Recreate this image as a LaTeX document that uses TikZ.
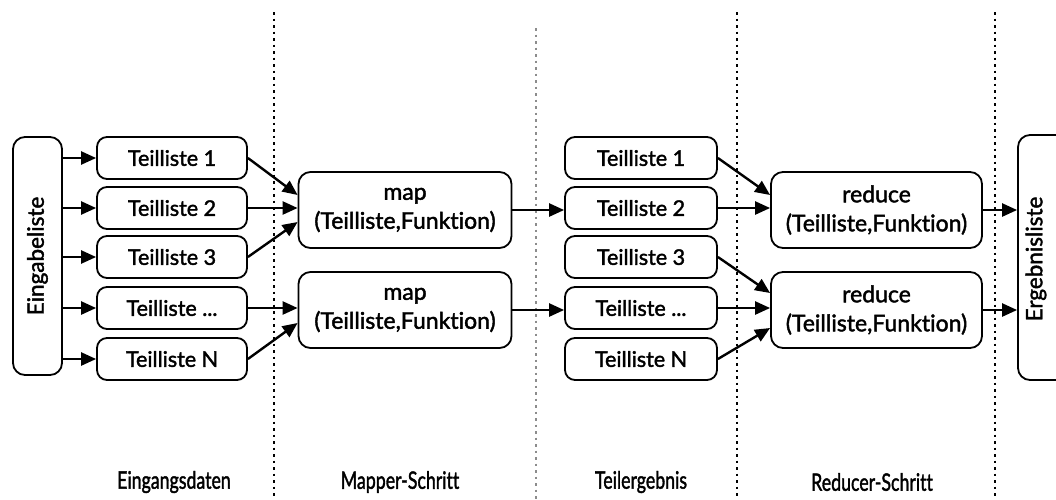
\documentclass[tikz,border=0pt]{standalone}
\usepackage{fontspec}
\setmainfont{Lato}[Ligatures=NoCommon]
\newfontfamily\boxfont{Lato}[Ligatures=NoCommon, FakeBold=1.8]
\usetikzlibrary{arrows.meta}
\begin{document}
\begin{tikzpicture}[x=1pt,y=-1pt,
  part/.style={draw, line width=1.8pt, rounded corners=10pt, minimum width=150pt,
    minimum height=42pt, inner sep=0pt, font=\boxfont\fontsize{21.5}{26}\selectfont},
  func/.style={draw, line width=1.8pt, rounded corners=12pt, minimum width=213pt,
    minimum height=76pt, inner sep=0pt, align=center, font=\boxfont\fontsize{23}{29}\selectfont},
  listbox/.style={draw, line width=1.8pt, rounded corners=12pt, inner sep=0pt},
  vlabel/.style={rotate=90, font=\boxfont\fontsize{22.5}{26}\selectfont},
  arr/.style={line width=2.4pt, -{Triangle[length=15pt,width=13pt]}},
  sep/.style={line width=1.3pt, dash pattern=on 2.5pt off 4pt},
  stage/.style={xscale=0.74, font=\boxfont\fontsize{24}{28}\selectfont}
]
\clip (0,0) rectangle (1056,499);

% stage separators
\draw[sep] (274,12) -- (274,499);
\draw[sep, black!45] (536,28) -- (536,499);
\draw[sep] (737,12) -- (737,499);
\draw[sep] (995,12) -- (995,499);

% input list
\node[listbox, minimum width=49pt, minimum height=238pt] (ein) at (37.5,256) {};
\node[vlabel] (eintext) at (37.5,256) {Eingabeliste};

% input partitions
\node[part] (L1) at (172,158) {Teilliste 1};
\node[part] (L2) at (172,208) {Teilliste 2};
\node[part] (L3) at (172,257) {Teilliste 3};
\node[part] (L4) at (172,308) {Teilliste ...};
\node[part] (L5) at (172,359) {Teilliste N};

% map functions
\node[func] (map1) at (405,210) {map\\(Teilliste,Funktion)};
\node[func] (map2) at (405,310) {map\\(Teilliste,Funktion)};

% intermediate partitions
\node[part, minimum width=152pt] (M1) at (641,158) {Teilliste 1};
\node[part, minimum width=152pt] (M2) at (641,208) {Teilliste 2};
\node[part, minimum width=152pt] (M3) at (641,257) {Teilliste 3};
\node[part, minimum width=152pt] (M4) at (641,308) {Teilliste ...};
\node[part, minimum width=152pt] (M5) at (641,359) {Teilliste N};

% reduce functions
\node[func, minimum width=211pt] (red1) at (876.5,210) {reduce\\(Teilliste,Funktion)};
\node[func, minimum width=211pt] (red2) at (876.5,310) {reduce\\(Teilliste,Funktion)};

% result list
\node[listbox, minimum width=60pt, minimum height=245pt] (erg) at (1048,257.5) {};
\node[vlabel] (ergtext) at (1036,259) {Ergebnisliste};

% splitting the input
\foreach \n in {L1,L2,L3,L4,L5}
  \draw[arr] (ein.east |- \n.west) -- (\n.west);

% into the mappers
\draw[arr] (L1.east) -- ([yshift=15pt]map1.west);
\draw[arr] (L2.east) -- (L2.east -| map1.west);
\draw[arr] (L3.east) -- ([yshift=-12pt]map1.west);
\draw[arr] (L4.east) -- (L4.east -| map2.west);
\draw[arr] (L5.east) -- ([yshift=-13pt]map2.west);

% mapper output
\draw[arr] (map1.east) -- (map1.east -| M2.west);
\draw[arr] (map2.east) -- (map2.east -| M4.west);

% into the reducers
\draw[arr] (M1.east) -- ([yshift=15pt]red1.west);
\draw[arr] (M2.east) -- (M2.east -| red1.west);
\draw[arr] (M3.east) -- ([yshift=17pt]red2.west);
\draw[arr] (M4.east) -- (M4.east -| red2.west);
\draw[arr] (M5.east) -- ([yshift=-18pt]red2.west);

% reducer output
\draw[arr] (red1.east) -- (red1.east -| erg.west);
\draw[arr] (red2.east) -- (red2.east -| erg.west);

% stage captions
\node[stage] (s1) at (174,482) {Eingangsdaten};
\node[stage] (s2) at (400,482) {Mapper-Schritt};
\node[stage] (s3) at (641,482) {Teilergebnis};
\node[stage] (s4) at (872,482) {Reducer-Schritt};
\end{tikzpicture}
\end{document}
